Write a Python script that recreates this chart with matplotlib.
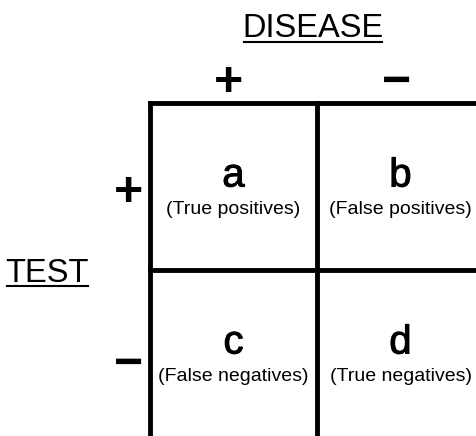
import matplotlib
matplotlib.use("Agg")
import matplotlib.pyplot as plt
import matplotlib.patheffects as pe

plt.rcParams['font.family'] = ['Liberation Sans', 'DejaVu Sans']

# Data
column_title = "DISEASE"
row_title = "TEST"
disease_labels = ["+", "\u2212"]
test_labels = ["+", "\u2212"]
cell_letters = [["a", "b"], ["c", "d"]]
cell_desc = [["(True positives)", "(False positives)"],
             ["(False negatives)", "(True negatives)"]]

W, H = 476, 436
fig = plt.figure(figsize=(W / 100, H / 100), dpi=100)
ax = fig.add_axes([0, 0, 1, 1])
ax.set_xlim(0, W)
ax.set_ylim(H, 0)
ax.axis("off")

x0, y0, cell = 150, 103, 167
lw = 3.5

# grid lines
for i in range(3):
    ax.plot([x0 + i * cell, x0 + i * cell], [y0, y0 + 2 * cell], color="black", lw=lw, solid_capstyle="projecting")
    ax.plot([x0, x0 + 2 * cell], [y0 + i * cell, y0 + i * cell], color="black", lw=lw, solid_capstyle="projecting")

# column header
ax.text(313, 37, column_title, ha="center", va="baseline", fontsize=23.5)
ax.plot([244, 382], [42, 42], color="black", lw=1.5)
# row header
ax.text(47, 282, row_title, ha="center", va="baseline", fontsize=23.5)
ax.plot([7, 88], [285.5, 285.5], color="black", lw=1.5)

sign_x = [229, 397]
for j, lab in enumerate(disease_labels):
    ax.text(sign_x[j], 95.5, lab, ha="center", va="baseline",
            fontsize=36, fontweight="bold")
sign_y = [205.5, 377.5]
for i, lab in enumerate(test_labels):
    ax.text(129, sign_y[i], lab, ha="center", va="baseline",
            fontsize=36, fontweight="bold")

stroke = [pe.withStroke(linewidth=0.7, foreground="black")]
for i in range(2):
    for j in range(2):
        cx = x0 + cell * (j + 0.5)
        cy = y0 + cell * (i + 0.5)
        ax.text(cx, cy, cell_letters[i][j], ha="center", va="baseline", fontsize=29,
                path_effects=stroke)
        ax.text(cx, cy + 27, cell_desc[i][j], ha="center", va="baseline", fontsize=14)

fig.savefig("out.png", dpi=100)
